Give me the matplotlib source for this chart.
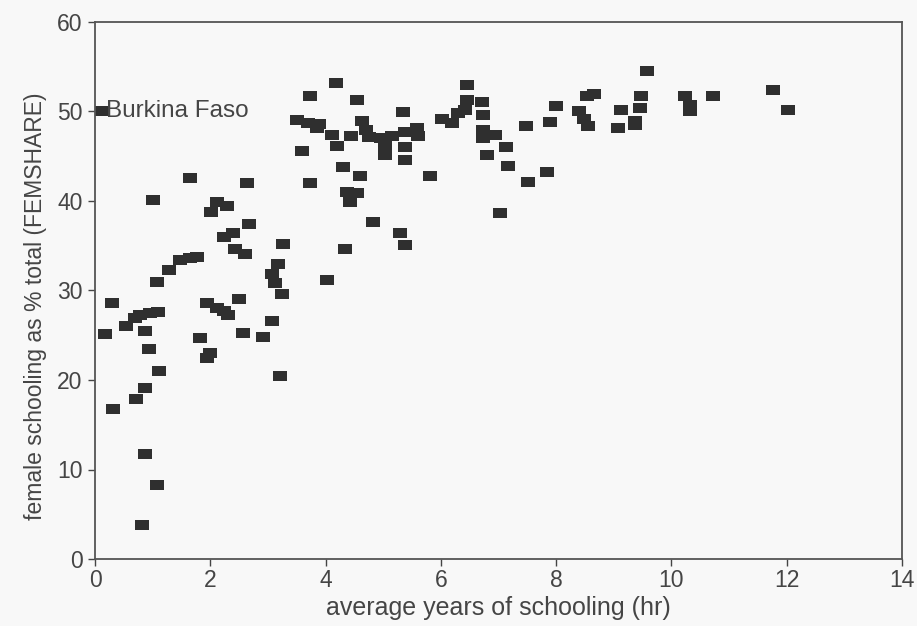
import matplotlib.pyplot as plt
from matplotlib.path import Path

# average years of schooling (hr) vs female share of schooling (FEMSHARE)
YEARS = [
    0.10, 0.18, 0.30, 0.31, 0.53, 0.70, 0.78, 0.95, 1.09, 0.87, 0.93, 1.11,
    0.86, 0.71, 0.86, 1.07, 0.81, 1.01, 1.07, 1.29, 1.48, 1.65, 1.77, 1.64,
    2.11, 2.29, 2.02, 2.63, 2.68, 2.23, 2.40, 2.43, 2.60, 1.94, 2.11, 2.23,
    2.31, 2.50, 1.82, 1.94, 2.00, 2.57, 2.92, 3.07, 3.21, 3.27, 3.18, 3.07,
    3.12, 3.24,
    4.02, 4.34, 4.83, 5.29, 5.38, 3.73, 4.18, 4.54, 3.50, 3.70, 3.88, 3.85,
    4.11, 4.19, 4.45, 4.63, 4.71, 4.75, 3.59, 4.31, 4.59, 3.73, 4.37, 4.54,
    4.42, 4.97, 5.03, 5.03, 5.15, 5.35, 5.38, 5.38, 5.58, 5.61, 5.38, 5.81,
    6.02, 6.19, 6.30, 6.42, 6.45, 6.45, 6.72, 6.74, 6.74, 6.74, 6.94, 6.80,
    7.13, 7.17, 7.52, 7.85, 7.02, 7.48, 7.89, 8.00, 8.39, 8.48, 8.56, 8.53,
    8.65, 9.13, 9.07, 9.47, 9.45, 9.37, 9.37, 9.57, 10.23, 10.33, 10.33,
    10.72, 11.77, 12.03,
]
FEMSHARE = [
    50.0, 25.1, 28.6, 16.8, 26.0, 26.9, 27.3, 27.5, 27.6, 25.5, 23.5, 21.0,
    19.1, 17.9, 11.7, 8.3, 3.8, 40.1, 31.0, 32.3, 33.4, 33.6, 33.7, 42.6,
    39.9, 39.4, 38.8, 42.0, 37.4, 36.0, 36.4, 34.6, 34.1, 28.6, 28.0, 27.7,
    27.3, 29.1, 24.7, 22.5, 23.0, 25.3, 24.8, 26.6, 20.4, 35.2, 33.0, 31.8,
    30.8, 29.6,
    31.2, 34.6, 37.6, 36.4, 35.1, 51.7, 53.2, 51.3, 49.0, 48.7, 48.6, 48.1,
    47.4, 46.1, 47.3, 48.9, 47.9, 47.1, 45.6, 43.8, 42.8, 42.0, 41.0, 40.9,
    39.9, 47.0, 46.1, 45.1, 47.2, 49.9, 47.7, 46.0, 48.1, 47.2, 44.6, 42.8,
    49.2, 48.7, 49.8, 50.2, 51.3, 53.0, 51.1, 49.6, 47.9, 47.0, 47.4, 45.1,
    46.0, 43.9, 42.1, 43.2, 38.6, 48.4, 48.8, 50.6, 50.0, 49.2, 48.4, 51.7,
    52.0, 50.2, 48.1, 51.7, 50.4, 48.9, 48.5, 54.5, 51.7, 50.7, 50.0,
    51.7, 52.4, 50.2,
]
LABEL_COUNTRY = "Burkina Faso"
X_TICKS = [0, 2, 4, 6, 8, 10, 12, 14]
Y_TICKS = [0, 10, 20, 30, 40, 50, 60]

plt.rcParams["font.family"] = ["Liberation Sans", "DejaVu Sans"]
TEXT = "#454545"
BG = "#f8f8f8"

fig = plt.figure(figsize=(9.17, 6.26), dpi=100, facecolor=BG)
ax = fig.add_axes([0.1036, 0.107, 0.88, 0.858], facecolor=BG)

# wide flat rectangle marker like the scanned original
rect = Path([(-1.45, -1.0), (1.45, -1.0), (1.45, 1.0), (-1.45, 1.0), (-1.45, -1.0)],
            [Path.MOVETO, Path.LINETO, Path.LINETO, Path.LINETO, Path.CLOSEPOLY])
ax.plot(YEARS, FEMSHARE, linestyle="none", marker=rect, markersize=10,
        color="#2f2f2f", markeredgewidth=0)

ax.annotate(LABEL_COUNTRY, (YEARS[0], FEMSHARE[0]), xytext=(4, 0),
            textcoords="offset points", va="center", ha="left",
            fontsize=17.5, color=TEXT)

ax.set_xlim(0, 14)
ax.set_ylim(0, 60)
ax.set_xticks(X_TICKS)
ax.set_yticks(Y_TICKS)
ax.tick_params(colors=TEXT, labelsize=16.5, length=5, width=1, direction="out", pad=2)
ax.tick_params(axis="y", pad=4)
for sp in ax.spines.values():
    sp.set_color("#555555")
    sp.set_linewidth(1.3)

ax.set_xlabel("average years of schooling (hr)", fontsize=18, color=TEXT, labelpad=3)
ax.set_ylabel("female schooling as % total (FEMSHARE)", fontsize=16.5, color=TEXT)
ax.yaxis.set_label_coords(-0.06, 0.47)

fig.savefig("out.png", dpi=100, facecolor=BG)
